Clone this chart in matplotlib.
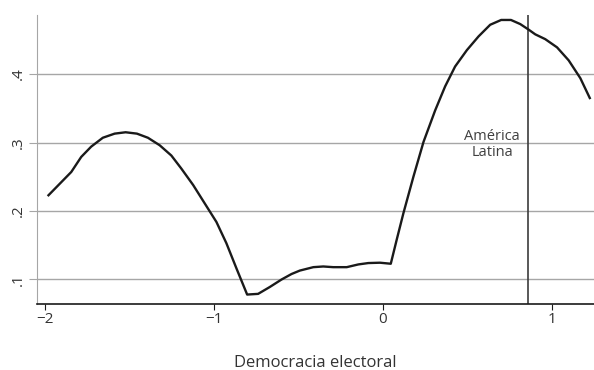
import matplotlib
matplotlib.use('Agg')
import matplotlib.pyplot as plt

plt.rcParams['font.family'] = ['Open Sans', 'DejaVu Sans']

# density curve of the electoral democracy index
x = [-1.982, -1.847, -1.788, -1.729, -1.66, -1.59, -1.525, -1.458, -1.393, -1.323,
     -1.254, -1.195, -1.125, -1.056, -0.987, -0.928, -0.868, -0.805, -0.74, -0.671,
     -0.601, -0.542, -0.493, -0.413, -0.354, -0.295, -0.215, -0.146, -0.087, -0.018,
     0.046, 0.081, 0.121, 0.180, 0.240, 0.309, 0.368, 0.427, 0.497, 0.566,
     0.635, 0.700, 0.758, 0.813, 0.862, 0.902, 0.961, 1.031, 1.100, 1.169, 1.225]
y = [0.223, 0.257, 0.279, 0.294, 0.307, 0.313, 0.315, 0.313, 0.307, 0.296,
     0.281, 0.262, 0.238, 0.211, 0.184, 0.153, 0.116, 0.078, 0.079, 0.089,
     0.100, 0.108, 0.113, 0.118, 0.119, 0.118, 0.118, 0.122, 0.124, 0.1245,
     0.123, 0.158, 0.197, 0.250, 0.301, 0.347, 0.382, 0.411, 0.435, 0.455,
     0.472, 0.479, 0.479, 0.473, 0.465, 0.458, 0.451, 0.439, 0.420, 0.394, 0.365]

latam = 0.859
xticks = [-2, -1, 0, 1]
xtick_labels = ['\u22122', '\u22121', '0', '1']
yticks = [0.1, 0.2, 0.3, 0.4]
ytick_labels = ['.1', '.2', '.3', '.4']

fig = plt.figure(figsize=(5.94, 3.70), dpi=100)
ax = fig.add_axes([0.0623, 0.178, 0.9377, 0.781])

grid_c = '#a6a6a6'
for v in yticks:
    ax.axhline(v, color=grid_c, lw=1.0, zorder=1)

ax.plot(x, y, color='#1a1a1a', lw=1.7, zorder=3)
ax.axvline(latam, color='#3c3c3c', lw=1.2, zorder=2)
ax.text(0.647, 0.297, 'América\nLatina', ha='center', va='center',
        fontsize=10.5, color='#404040', linespacing=1.15)

ax.set_xlim(-2.05, 1.25)
ax.set_ylim(0.064, 0.486)
ax.set_xticks(xticks)
ax.set_xticklabels(xtick_labels, fontsize=11, color='#333333')
ax.set_yticks(yticks)
ax.set_yticklabels(ytick_labels, fontsize=11, color='#333333', rotation=90, va='center')
ax.set_xlabel('Democracia electoral', fontsize=12, color='#333333', labelpad=20)

ax.spines['top'].set_visible(False)
ax.spines['right'].set_visible(False)
ax.spines['left'].set_color(grid_c)
ax.spines['bottom'].set_color('#1a1a1a')
ax.spines['bottom'].set_linewidth(1.2)
ax.tick_params(axis='y', length=6, color=grid_c, pad=2)
ax.tick_params(axis='x', length=4, color='#1a1a1a', pad=2)

fig.savefig('out.png', dpi=100)
